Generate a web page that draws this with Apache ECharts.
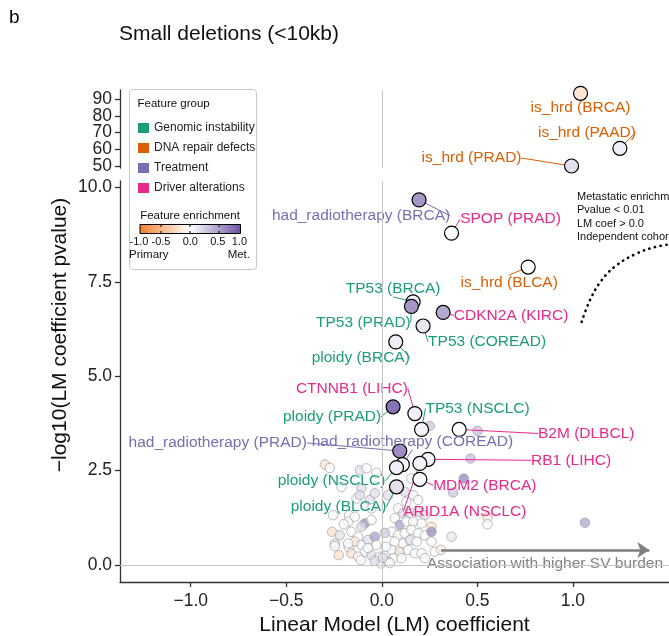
<!DOCTYPE html>
<html>
<head>
<meta charset="utf-8">
<script src="https://cdn.jsdelivr.net/npm/echarts@6/dist/echarts.min.js"></script>
<style>
html, body { margin: 0; padding: 0; background: #fff; }
#chart { width: 669px; height: 636px; }
</style>
</head>
<body>
<div id="chart"></div>
<script>
'use strict';

/*
 * Small deletions (<10kb) - LM coefficient vs -log10 pvalue
 */

const FONT = '"Liberation Sans", Arial, Helvetica, sans-serif';

// feature groups
const groups = ['Genomic instability', 'DNA repair defects', 'Treatment', 'Driver alterations'];
const groupColors = ['#1b9e77', '#d95f02', '#7570b3', '#e7298a'];

// axis ticks
const xTicks = [-1.0, -0.5, 0.0, 0.5, 1.0];
const yTicksLow = [0, 2.5, 5, 7.5, 10];
const yTicksHigh = [50, 60, 70, 80, 90];

// labelled features, upper panel
const topNames = ['is_hrd (BRCA)', 'is_hrd (PAAD)', 'is_hrd (PRAD)'];
const topGroups = ['DNA repair defects', 'DNA repair defects', 'DNA repair defects'];
const topCoef = [1.040, 1.246, 0.993];
const topLogP = [93.6, 60.6, 50.0];
const topEnrich = [-0.2, 0.1, 0.18];

// labelled features, lower panel
const hitNames = [
    'had_radiotherapy (BRCA)', 'SPOP (PRAD)', 'is_hrd (BLCA)', 'TP53 (BRCA)', 'TP53 (PRAD)',
    'CDKN2A (KIRC)', 'TP53 (COREAD)', 'ploidy (BRCA)', 'CTNNB1 (LIHC)', 'ploidy (PRAD)',
    'TP53 (NSCLC)', 'B2M (DLBCL)', 'had_radiotherapy (PRAD)', 'had_radiotherapy (COREAD)', 'RB1 (LIHC)',
    'ploidy (NSCLC)', 'ploidy (BLCA)', 'MDM2 (BRCA)', 'ARID1A (NSCLC)'
];
const hitGroups = [
    'Treatment', 'Driver alterations', 'DNA repair defects', 'Genomic instability', 'Genomic instability',
    'Driver alterations', 'Genomic instability', 'Genomic instability', 'Driver alterations', 'Genomic instability',
    'Genomic instability', 'Driver alterations', 'Treatment', 'Treatment', 'Driver alterations',
    'Genomic instability', 'Genomic instability', 'Driver alterations', 'Driver alterations'
];
const hitCoef = [0.195, 0.365, 0.766, 0.164, 0.155, 0.321, 0.216, 0.073, 0.173, 0.059,
    0.208, 0.405, 0.094, 0.108, 0.242, 0.077, 0.077, 0.199, 0.199];
const hitLogP = [9.67, 8.79, 7.89, 6.97, 6.85, 6.69, 6.33, 5.91, 4.01, 4.19,
    3.59, 3.59, 3.02, 2.66, 2.80, 2.58, 2.07, 2.27, 2.69];
const hitEnrich = [0.6, 0.02, -0.03, 0.1, 0.6, 0.5, 0.15, 0.1, 0.1, 0.8,
    0.07, 0.02, 0.65, 0.03, 0.07, 0.1, 0.18, 0.02, 0.08];

// other (unlabelled) features
const bgCoef = [
    -0.298, -0.272, -0.211, -0.255, -0.171, -0.260, -0.246, -0.246, -0.225, -0.173,
    -0.115, -0.080, -0.106, -0.132, -0.063, -0.089, -0.176, -0.054, -0.220, -0.159,
    -0.124, -0.141, -0.106, -0.072, -0.037, -0.028, -0.089, -0.054, -0.010, -0.002,
    0.016, -0.159, -0.124, -0.176, -0.106, -0.141, -0.054, -0.028, -0.115, -0.037,
    0.155, 0.120, 0.164, 0.190, 0.129, 0.085, 0.112, 0.155, 0.190, 0.225,
    0.068, 0.094, 0.129, 0.164, 0.208, 0.260, 0.051, 0.085, 0.120, 0.155,
    0.190, 0.225, 0.068, 0.112, 0.147, 0.182, 0.260, 0.051, 0.094, 0.138,
    0.173, 0.208, 0.059, 0.103, 0.225, 0.033, 0.277, 0.033, 0.260, 0.251,
    0.501, 0.464, 0.429, 0.373, 0.553, 0.553, 1.063, 0.365, 0.309, 0.042,
    -0.037, 0.005, -0.073, -0.199, 0.021, -0.110, 0.016
];
const bgLogP = [
    2.66, 2.57, 2.07, 1.32, 1.32, 0.88, 0.57, 0.50, 0.26, 0.47,
    2.51, 2.56, 2.03, 1.76, 1.72, 1.10, 1.15, 1.19, 0.79, 0.88,
    0.75, 0.62, 0.53, 0.66, 0.75, 0.53, 0.35, 0.26, 0.22, 0.04,
    0.26, 0.31, 0.22, 0.57, 1.02, 1.28, 1.50, 2.44, 1.85, 1.90,
    2.29, 1.94, 1.85, 1.72, 1.67, 1.50, 1.37, 1.37, 1.41, 1.32,
    1.24, 1.06, 1.15, 1.15, 1.10, 1.01, 0.88, 0.79, 0.84, 0.93,
    0.84, 0.79, 0.62, 0.57, 0.66, 0.62, 0.62, 0.40, 0.35, 0.40,
    0.31, 0.31, 0.18, 0.18, 0.18, 0.09, 0.35, 1.85, 0.88, 3.68,
    3.55, 2.82, 2.29, 1.92, 1.26, 1.08, 1.12, 0.75, 0.40, 0.05,
    0.11, 0.19, 0.45, 1.08, 0.48, 0.13, 0.85
];
const bgEnrich = [
    -0.25, 0.02, 0.02, 0.02, 0.02, -0.25, 0.2, 0.02, -0.25, 0.02,
    0.2, 0.02, 0.2, 0.02, 0.2, 0.7, 0.02, 0.02, 0.2, 0.02,
    0.02, -0.2, 0.02, 0.2, 0.6, 0.02, 0.02, 0.2, 0.02, 0.02,
    0.02, -0.25, 0.02, 0.02, 0.2, 0.02, 0.02, 0.02, 0.2, 0.2,
    0.02, 0.2, 0.02, 0.02, 0.02, 0.02, 0.2, 0.02, 0.2, 0.2,
    0.02, 0.6, 0.02, 0.02, 0.02, -0.25, 0.02, 0.02, 0.02, 0.02,
    0.02, 0.02, 0.02, 0.02, 0.2, 0.02, 0.02, 0.02, -0.25, 0.02,
    0.02, 0.02, 0.02, 0.02, 0.02, 0.02, 0.02, 0.2, 0.7, 0.35,
    0.4, 0.4, 0.75, 0.35, -0.2, 0.03, 0.55, 0.15, -0.15, 0.02,
    0.2, 0.2, 0.02, 0.02, 0.02, 0.02, 0.3
];

// significance threshold curve (dotted)
const curveCoef = [1.046, 1.089, 1.150, 1.229, 1.334, 1.429, 1.503];
const curveLogP = [6.44, 7.01, 7.54, 7.94, 8.25, 8.42, 8.49];

// label placement (pixel shift of label centre from its point)
const topLabelShift = [[0, 14], [-33, -16], [-100, -8]];
const hitLabelShift = [
    [-58, 16], [59, -14], [-19, 16], [-20, -13], [-48, 16],
    [68, 3], [64, 16], [-35, 16], [-63, -25], [-61, 10],
    [56, -21], [127, 4], [-182, -8], [10, -23], [143, 1],
    [-65, 13], [-58, 20], [65, 6], [45, 48]
];

const X_MIN = -1.37;
const X_MAX = 1.503;
const TOP_MIN = 48.8;
const TOP_MAX = 95.6;

const colorOf = g => groupColors[groups.indexOf(g)];
const minus = s => s.replace('-', '\u2212');

const toItems = (names, grp, xs, ys, es) => names.map((name, i) => ({
    name,
    value: [xs[i], ys[i], es[i]],
    label: { color: colorOf(grp[i]) },
    labelLine: { lineStyle: { color: colorOf(grp[i]) } }
}));

const layoutFrom = shift => params => ({
    dx: shift[params.dataIndex][0],
    dy: shift[params.dataIndex][1]
});

const hitLabel = {
    show: true,
    position: 'inside',
    formatter: '{b}',
    fontSize: 15.5,
    fontFamily: FONT
};

const zeroLines = data => ({
    silent: true,
    symbol: 'none',
    label: { show: false },
    lineStyle: { color: '#c4c4c4', width: 1, type: 'solid' },
    data
});

const axisText = { fontSize: 17.5, color: '#222', fontFamily: FONT };
const axisLineStyle = { color: '#333', width: 1.3 };

// the upper panel ticks sit too close for one axis to print them all,
// so they are split over two overlapping axes
const topAxis = (ticks, showLine) => ({
    gridIndex: 0, type: 'value', position: 'left', offset: 0,
    min: TOP_MIN, max: TOP_MAX,
    splitLine: { show: false },
    axisLine: { show: showLine, onZero: false, lineStyle: axisLineStyle },
    axisTick: { length: 5, lineStyle: axisLineStyle, customValues: ticks },
    axisLabel: Object.assign({
        customValues: ticks,
        margin: 8,
        showMinLabel: true,
        showMaxLabel: true
    }, axisText)
});

const txt = (x, y, text, size, extra) => ({
    type: 'text',
    x, y,
    style: Object.assign({
        text,
        fontSize: size,
        fontFamily: FONT,
        fill: '#111',
        textAlign: 'left',
        align: 'left',
        textVerticalAlign: 'middle',
        verticalAlign: 'middle'
    }, extra || {})
});

const centered = { textAlign: 'center', align: 'center' };

const chart = echarts.init(document.getElementById('chart'));

const option = {
    animation: false,
    backgroundColor: '#fff',
    grid: [
        { left: 120, right: 0, top: 90, height: 78, outerBoundsMode: 'none', containLabel: false },
        { left: 120, right: 0, top: 181, height: 401, outerBoundsMode: 'none', containLabel: false }
    ],
    xAxis: [
        { gridIndex: 0, type: 'value', min: X_MIN, max: X_MAX, show: false },
        {
            gridIndex: 1, type: 'value', min: X_MIN, max: X_MAX,
            splitLine: { show: false },
            axisLine: { onZero: false, lineStyle: axisLineStyle },
            axisTick: { length: 5, lineStyle: axisLineStyle, customValues: xTicks },
            axisLabel: Object.assign({
                customValues: xTicks,
                margin: 10,
                showMinLabel: true,
                showMaxLabel: true,
                formatter: v => minus(v.toFixed(1))
            }, axisText),
            name: 'Linear Model (LM) coefficient',
            nameLocation: 'middle',
            nameGap: 30,
            nameTextStyle: { fontSize: 21, color: '#111', fontFamily: FONT }
        }
    ],
    yAxis: [
        topAxis(yTicksHigh.filter((v, i) => i % 2 === 0), true),
        {
            gridIndex: 1, type: 'value', min: -0.45, max: 10.17,
            splitLine: { show: false },
            axisLine: { onZero: false, lineStyle: axisLineStyle },
            axisTick: { length: 5, lineStyle: axisLineStyle, customValues: yTicksLow },
            axisLabel: Object.assign({
                customValues: yTicksLow,
                margin: 8,
                showMinLabel: true,
                showMaxLabel: true,
                formatter: v => v.toFixed(1)
            }, axisText)
        },
        topAxis(yTicksHigh.filter((v, i) => i % 2 === 1), false)
    ],
    visualMap: [{
        type: 'continuous',
        show: false,
        min: -1,
        max: 1,
        dimension: 2,
        seriesIndex: [0, 1, 2],
        inRange: { color: ['#f1802d', '#ffffff', '#6a51a3'] }
    }],
    legend: {
        data: groups.map(name => ({ name, icon: 'rect' })),
        orient: 'vertical',
        left: 133,
        top: 117,
        itemWidth: 11,
        itemHeight: 10,
        itemGap: 8,
        selectedMode: false,
        textStyle: { fontSize: 12, color: '#222', fontFamily: FONT }
    },
    series: [
        {
            type: 'scatter',
            name: 'top',
            xAxisIndex: 0,
            yAxisIndex: 0,
            z: 5,
            symbolSize: 14,
            itemStyle: { borderColor: '#000', borderWidth: 1.2, opacity: 1 },
            data: toItems(topNames, topGroups, topCoef, topLogP, topEnrich),
            label: hitLabel,
            labelLine: { show: true, lineStyle: { width: 1 } },
            labelLayout: layoutFrom(topLabelShift),
            markLine: zeroLines([{ xAxis: 0 }])
        },
        {
            type: 'scatter',
            name: 'other',
            xAxisIndex: 1,
            yAxisIndex: 1,
            z: 2,
            symbolSize: 9.5,
            itemStyle: { borderColor: '#a0a0a0', borderWidth: 1, opacity: 0.7 },
            data: bgCoef.map((x, i) => [x, bgLogP[i], bgEnrich[i]]),
            markLine: zeroLines([{ xAxis: 0 }, { yAxis: 0 }])
        },
        {
            type: 'scatter',
            name: 'hits',
            xAxisIndex: 1,
            yAxisIndex: 1,
            z: 4,
            symbolSize: 14,
            itemStyle: { borderColor: '#000', borderWidth: 1.2, opacity: 1 },
            data: toItems(hitNames, hitGroups, hitCoef, hitLogP, hitEnrich),
            label: hitLabel,
            labelLine: { show: true, lineStyle: { width: 1 } },
            labelLayout: layoutFrom(hitLabelShift)
        },
        {
            type: 'line',
            name: 'threshold',
            xAxisIndex: 1,
            yAxisIndex: 1,
            smooth: 0.4,
            symbol: 'none',
            silent: true,
            lineStyle: { color: '#000', width: 2.6, type: [0.3, 5.5], cap: 'round' },
            data: curveCoef.map((x, i) => [x, curveLogP[i]]),
            markLine: {
                silent: true,
                symbol: ['none', 'arrow'],
                symbolSize: 12,
                label: { show: false },
                lineStyle: { color: '#7f7f7f', width: 2.5, type: 'solid' },
                data: [[{ coord: [0.31, 0.4] }, { coord: [1.40, 0.4] }]]
            }
        }
    ].concat(groups.map((name, i) => ({
        type: 'scatter',
        name,
        xAxisIndex: 1,
        yAxisIndex: 1,
        data: [],
        itemStyle: { color: groupColors[i], opacity: 1 }
    }))),
    graphic: [
        txt(9, 18, 'b', 19, { fill: '#000' }),
        txt(119, 34, 'Small deletions (<10kb)', 21),
        {
            type: 'text',
            x: 60,
            y: 335,
            rotation: Math.PI / 2,
            style: {
                text: '\u2212log10(LM coefficient pvalue)',
                fontSize: 21,
                fontFamily: FONT,
                fill: '#111',
                textAlign: 'center', align: 'center',
                textVerticalAlign: 'middle', verticalAlign: 'middle'
            }
        },
        {
            type: 'rect',
            z: -1,
            shape: { x: 129.5, y: 89.5, width: 127, height: 180, r: 3 },
            style: { fill: '#fff', stroke: '#c8c8c8', lineWidth: 1 }
        },
        txt(137.5, 104, 'Feature group', 11.5),
        txt(190, 215.5, 'Feature enrichment', 11.5, centered),
        {
            type: 'rect',
            shape: { x: 140, y: 224.5, width: 100.5, height: 9 },
            style: {
                stroke: '#000',
                lineWidth: 1,
                fill: new echarts.graphic.LinearGradient(0, 0, 1, 0, [
                    { offset: 0, color: '#f1802d' },
                    { offset: 0.5, color: '#ffffff' },
                    { offset: 1, color: '#6a51a3' }
                ])
            }
        }
    ].concat([161, 190, 219].map(x => ({
        type: 'line',
        shape: { x1: x, y1: 224.5, x2: x, y2: 227 },
        style: { stroke: '#000', lineWidth: 1 }
    }))).concat([161, 190, 219].map(x => ({
        type: 'line',
        shape: { x1: x, y1: 231, x2: x, y2: 233.5 },
        style: { stroke: '#000', lineWidth: 1 }
    }))).concat([
        txt(139, 242, '-1.0', 11, centered),
        txt(161, 242, '-0.5', 11, centered),
        txt(190.3, 242, '0.0', 11, centered),
        txt(217.8, 242, '0.5', 11, centered),
        txt(239.5, 242, '1.0', 11, centered),
        txt(129, 254.5, 'Primary', 11.5),
        txt(250, 254.5, 'Met.', 11.5, { textAlign: 'right', align: 'right' }),
        {
            type: 'text',
            x: 577,
            y: 190,
            style: {
                text: 'Metastatic enrichment\nPvalue < 0.01\nLM coef > 0.0\nIndependent cohort',
                fontSize: 11,
                lineHeight: 13.4,
                fontFamily: FONT,
                fill: '#111'
            }
        },
        txt(427, 564, 'Association with higher SV burden', 15.5, { fill: '#808080' })
    ])
};

chart.setOption(option);
</script>
</body>
</html>
